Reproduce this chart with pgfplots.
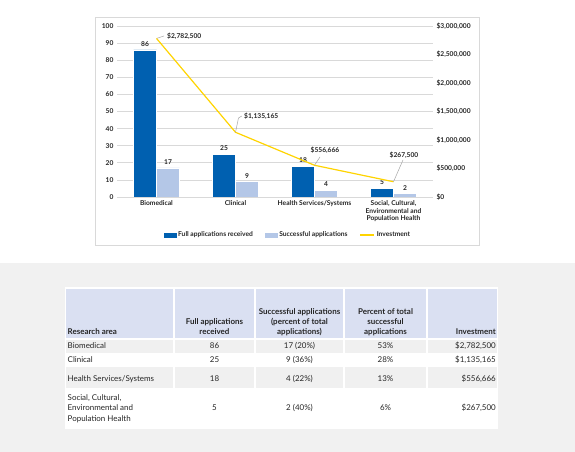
\documentclass[border=0pt]{standalone}
\usepackage{pgfplots}
\pgfplotsset{compat=1.18}
\usepackage{fontspec}
\setmainfont{Lato}

\definecolor{barDark}{HTML}{0060B0}
\definecolor{barLight}{HTML}{B4C7E7}
\definecolor{lineYellow}{HTML}{FFD400}
\definecolor{gridGray}{HTML}{D9D9D9}
\definecolor{bandGray}{HTML}{F1F1F1}
\definecolor{headBlue}{HTML}{DAE0F2}
\definecolor{rowGray}{HTML}{F0F0F0}
\definecolor{txt}{HTML}{262626}
\definecolor{leader}{HTML}{A6A6A6}

\newcommand\cf{\fontsize{6.7}{7.7}\selectfont\bfseries}
\newcommand\tf{\fontsize{8}{10}\selectfont}

\begin{document}
\begin{tikzpicture}[x=1bp,y=1bp]
\useasboundingbox (0,0) rectangle (575,452);
\fill[white] (0,0) rectangle (575,452);
\fill[bandGray] (0,0) rectangle (575,189);
\draw[gridGray, line width=0.8bp] (95.5,207) rectangle (479,434.5);

% bars, left axis
\begin{axis}[
  at={(117bp,255bp)}, anchor=south west,
  scale only axis, width=316bp, height=171bp,
  xmin=-0.5, xmax=3.5, ymin=0, ymax=100,
  axis x line*=bottom, axis y line*=left,
  axis line style={draw=none},
  major tick length=0pt,
  xtick={0,1,2,3},
  xticklabels={Biomedical, Clinical, Health Services/Systems,
    {Social, Cultural,\\Environmental and\\Population Health}},
  xticklabel style={font=\cf, text=txt, align=center, anchor=north},
  ytick={0,10,...,100},
  yticklabel style={font=\cf, text=txt},
  ymajorgrids, grid style={gridGray, line width=0.6bp},
  /pgf/number format/assume math mode=true,
  ybar=0pt, bar width=23bp,
  nodes near coords,
  nodes near coords style={font=\cf, text=txt},
  legend style={at={(0.541,-0.222)}, anchor=center, draw=none, fill=none,
    font=\cf, text=txt, legend columns=3,
    /tikz/every even column/.append style={column sep=10bp}},
]
\addplot[fill=barDark, draw=white, line width=0.4bp,
  legend image code/.code={\fill[barDark] (0bp,-2bp) rectangle (12bp,2bp);}]
  coordinates {(0,86) (1,25) (2,18) (3,5)};
\addlegendentry{Full applications received}
\addplot[fill=barLight, draw=white, line width=0.4bp,
  legend image code/.code={\fill[barLight] (0bp,-2bp) rectangle (12bp,2bp);}]
  coordinates {(0,17) (1,9) (2,4) (3,2)};
\addlegendentry{Successful applications}
\addlegendimage{legend image code/.code={\draw[lineYellow, line width=1.2bp] (0bp,0bp) -- (14bp,0bp);}}
\addlegendentry{Investment}
\end{axis}

% investment, right axis
\begin{axis}[
  at={(117bp,255bp)}, anchor=south west,
  scale only axis, width=316bp, height=171bp,
  xmin=-0.5, xmax=3.5, ymin=0, ymax=3000000,
  axis x line=none, axis y line*=right,
  axis line style={draw=none}, major tick length=0pt,
  ytick={0,500000,1000000,1500000,2000000,2500000,3000000},
  yticklabels={{\$0},{\$500,000},{\$1,000,000},{\$1,500,000},{\$2,000,000},{\$2,500,000},{\$3,000,000}},
  yticklabel style={font=\cf, text=txt, anchor=west},
  scaled y ticks=false,
]
\addplot[lineYellow, line width=1.2bp, mark=none]
  coordinates {(0,2782500) (1,1135165) (2,556666) (3,267500)};
% data labels with leader lines
\draw[leader, line width=0.5bp] (axis cs:0.006,2784000) -- (axis cs:0.095,2825000);
\node[anchor=west, font=\cf, text=txt, inner sep=0pt] at (axis cs:0.133,2812000) {\$2,782,500};
\draw[leader, line width=0.5bp] (axis cs:1.0,1135165) -- (axis cs:1.038,1386000) -- (axis cs:1.08,1421000);
\node[anchor=west, font=\cf, text=txt, inner sep=0pt] at (axis cs:1.108,1421000) {\$1,135,165};
\draw[leader, line width=0.5bp] (axis cs:2.0,556666) -- (axis cs:2.07,701754);
\node[font=\cf, text=txt, inner sep=0pt] at (axis cs:2.133,824561) {\$556,666};
\draw[leader, line width=0.5bp] (axis cs:3.0,267500) -- (axis cs:3.12,649123);
\node[font=\cf, text=txt, inner sep=0pt] at (axis cs:3.133,736842) {\$267,500};
\end{axis}

% table
\fill[white] (65,23) rectangle (498,165);
\foreach \a/\b in {66/173,175/254,256/343,345/426,428/497}{
  \fill[headBlue] (\a,114) rectangle (\b,163);
  \fill[rowGray] (\a,99) rectangle (\b,112);
  \fill[rowGray] (\a,64) rectangle (\b,85);
}
\begin{scope}[every node/.style={inner sep=0pt, font=\tf, text=txt}]
% header
\node[anchor=base west] at (67.5,117) {\bfseries Research area};
\node[anchor=base] at (214.5,127) {\bfseries Full applications};
\node[anchor=base] at (214.5,117) {\bfseries received};
\node[anchor=base] at (299.5,137) {\bfseries Successful applications};
\node[anchor=base] at (299.5,127) {\bfseries (percent of total};
\node[anchor=base] at (299.5,117) {\bfseries applications)};
\node[anchor=base] at (385.5,137) {\bfseries Percent of total};
\node[anchor=base] at (385.5,127) {\bfseries successful};
\node[anchor=base] at (385.5,117) {\bfseries applications};
\node[anchor=base east] at (496,117) {\bfseries Investment};
% rows
\node[anchor=base west] at (67.5,103) {Biomedical};
\node[anchor=base] at (214.5,103) {86};
\node[anchor=base] at (299.5,103) {17 (20\%)};
\node[anchor=base] at (385.5,103) {53\%};
\node[anchor=base east] at (496,103) {\$2,782,500};
\node[anchor=base west] at (67.5,89) {Clinical};
\node[anchor=base] at (214.5,89) {25};
\node[anchor=base] at (299.5,89) {9 (36\%)};
\node[anchor=base] at (385.5,89) {28\%};
\node[anchor=base east] at (496,89) {\$1,135,165};
\node[anchor=base west] at (67.5,70) {Health Services/Systems};
\node[anchor=base] at (214.5,70) {18};
\node[anchor=base] at (299.5,70) {4 (22\%)};
\node[anchor=base] at (385.5,70) {13\%};
\node[anchor=base east] at (496,70) {\$556,666};
\node[anchor=base west] at (67.5,51) {Social, Cultural,};
\node[anchor=base west] at (67.5,41) {Environmental and};
\node[anchor=base west] at (67.5,30) {Population Health};
\node[anchor=base] at (214.5,41) {5};
\node[anchor=base] at (299.5,41) {2 (40\%)};
\node[anchor=base] at (385.5,41) {6\%};
\node[anchor=base east] at (496,41) {\$267,500};
\end{scope}
\end{tikzpicture}
\end{document}
